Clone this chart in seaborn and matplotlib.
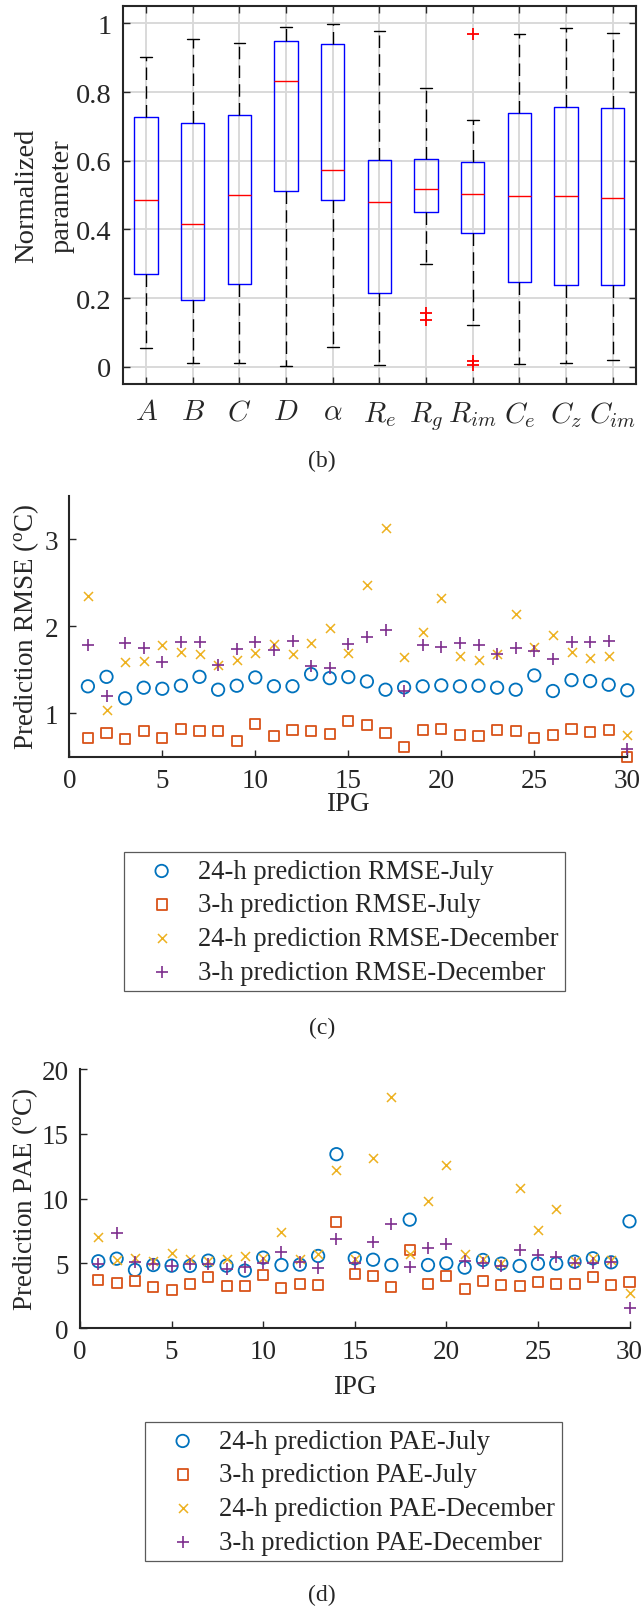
import numpy as np
import pandas as pd
import matplotlib
matplotlib.use("Agg")
import matplotlib.pyplot as plt
import seaborn as sns

# ---------------- (b) normalized identified parameters ----------------
param_labels = [r"$A$", r"$B$", r"$C$", r"$D$", r"$\alpha$", r"$R_e$", r"$R_g$",
                r"$R_{im}$", r"$C_e$", r"$C_z$", r"$C_{im}$"]
whisker_low = [0.054, 0.012, 0.010, 0.001, 0.058, 0.006, 0.300, 0.122, 0.008, 0.011, 0.019]
quartile_1 = [0.270, 0.196, 0.240, 0.513, 0.487, 0.215, 0.452, 0.390, 0.248, 0.237, 0.238]
median = [0.485, 0.415, 0.500, 0.831, 0.573, 0.480, 0.518, 0.503, 0.497, 0.497, 0.491]
quartile_3 = [0.727, 0.711, 0.734, 0.948, 0.940, 0.603, 0.605, 0.598, 0.740, 0.756, 0.753]
whisker_high = [0.902, 0.955, 0.942, 0.990, 0.999, 0.978, 0.812, 0.718, 0.969, 0.987, 0.973]
outlier_param = [r"$R_g$", r"$R_g$", r"$R_{im}$", r"$R_{im}$", r"$R_{im}$"]
outlier_value = [0.156, 0.136, 0.968, 0.017, 0.006]
box_yticks = [0, 0.2, 0.4, 0.6, 0.8, 1.0]
box_yticklabels = ["0", "0.2", "0.4", "0.6", "0.8", "1"]

# ---------------- (c) prediction RMSE per IPG ----------------
ipg = list(range(1, 31))
rmse_24h_july = [1.309, 1.418, 1.171, 1.293, 1.281, 1.316, 1.418, 1.270, 1.316, 1.411,
                 1.310, 1.310, 1.449, 1.403, 1.415, 1.365, 1.270, 1.297, 1.309, 1.320,
                 1.309, 1.316, 1.293, 1.270, 1.434, 1.255, 1.380, 1.369, 1.327, 1.263]
rmse_3h_july = [0.718, 0.775, 0.706, 0.801, 0.718, 0.820, 0.790, 0.790, 0.680, 0.878,
                0.737, 0.805, 0.801, 0.756, 0.908, 0.859, 0.775, 0.615, 0.809, 0.824,
                0.748, 0.740, 0.805, 0.790, 0.714, 0.745, 0.813, 0.779, 0.805, 0.500]
rmse_24h_dec = [2.352, 1.041, 1.583, 1.601, 1.781, 1.704, 1.686, 1.556, 1.606, 1.697,
                1.792, 1.686, 1.807, 1.979, 1.693, 2.474, 3.133, 1.651, 1.929, 2.329,
                1.663, 1.613, 1.681, 2.135, 1.766, 1.895, 1.709, 1.629, 1.663, 0.745]
rmse_3h_dec = [1.781, 1.201, 1.807, 1.754, 1.583, 1.819, 1.819, 1.556, 1.735, 1.819,
               1.723, 1.826, 1.544, 1.514, 1.796, 1.876, 1.956, 1.251, 1.785, 1.766,
               1.803, 1.789, 1.678, 1.754, 1.712, 1.621, 1.819, 1.815, 1.826, 0.584]
rmse_labels = ["24-h prediction RMSE-July", "3-h prediction RMSE-July",
               "24-h prediction RMSE-December", "3-h prediction RMSE-December"]

# ---------------- (d) prediction PAE per IPG ----------------
pae_24h_july = [5.17, 5.37, 4.50, 4.88, 4.83, 4.81, 5.22, 4.83, 4.45, 5.45,
                4.88, 4.91, 5.58, 13.43, 5.40, 5.29, 4.88, 8.38, 4.88, 5.01,
                4.68, 5.27, 4.99, 4.81, 4.99, 4.99, 5.14, 5.40, 5.09, 8.25]
pae_3h_july = [3.75, 3.47, 3.62, 3.16, 2.98, 3.39, 3.96, 3.24, 3.29, 4.14,
               3.09, 3.39, 3.32, 8.23, 4.17, 4.01, 3.16, 6.02, 3.42, 4.01,
               3.01, 3.67, 3.34, 3.29, 3.60, 3.39, 3.42, 3.93, 3.36, 3.60]
pae_24h_dec = [7.07, 5.29, 5.40, 5.19, 5.79, 5.32, 5.22, 5.35, 5.56, 5.40,
               7.45, 5.35, 5.73, 12.21, 5.35, 13.17, 17.85, 5.73, 9.82, 12.57,
               5.76, 5.35, 5.01, 10.85, 7.61, 9.21, 5.17, 5.40, 5.25, 2.72]
pae_3h_dec = [4.94, 7.35, 5.09, 4.96, 4.81, 4.99, 4.99, 4.55, 4.73, 5.04,
              5.89, 5.09, 4.65, 6.89, 5.04, 6.64, 8.05, 4.71, 6.17, 6.50,
              5.17, 5.01, 4.78, 6.04, 5.66, 5.50, 5.01, 5.04, 5.09, 1.54]
pae_labels = ["24-h prediction PAE-July", "3-h prediction PAE-July",
              "24-h prediction PAE-December", "3-h prediction PAE-December"]

ipg_xticks = [0, 5, 10, 15, 20, 25, 30]
rmse_yticks = [1, 2, 3]
pae_yticks = [0, 5, 10, 15, 20]

# ---------------- style ----------------
sns.set_style("ticks")
plt.rcParams["font.family"] = ["Liberation Serif", "DejaVu Serif"]
plt.rcParams["mathtext.fontset"] = "custom"
plt.rcParams["mathtext.rm"] = "Liberation Serif"
plt.rcParams["mathtext.it"] = "Liberation Serif:italic"
plt.rcParams["axes.edgecolor"] = "#262626"
plt.rcParams["xtick.color"] = "#262626"
plt.rcParams["ytick.color"] = "#262626"
plt.rcParams["text.color"] = "#262626"
plt.rcParams["axes.labelcolor"] = "#262626"

C_BLUE = "#0072BD"
C_ORANGE = "#D95319"
C_YELLOW = "#EDB120"
C_PURPLE = "#7E2F8E"

TICK_FS = 19.5
LABEL_FS = 19.5
LEGEND_FS = 19.2
PANEL_FS = 17

W, H = 642, 1608
fig = plt.figure(figsize=(W / 100, H / 100), dpi=100)


def px_axes(left, top, right, bottom):
    return fig.add_axes([left / W, 1 - bottom / H, (right - left) / W, (bottom - top) / H])


# ================= (b) box plot =================
ax_b = px_axes(122.7, 7.3, 636, 385)
box_df = pd.DataFrame({
    "parameter": np.repeat(param_labels, 5),
    "value": np.column_stack([whisker_low, quartile_1, median,
                              quartile_3, whisker_high]).ravel(),
})
sns.boxplot(data=box_df, x="parameter", y="value", order=param_labels, ax=ax_b,
            fill=False, width=0.5, whis=(0, 100), color="blue", linewidth=1.0,
            showfliers=False,
            boxprops=dict(color="blue"),
            medianprops=dict(color="red"),
            whiskerprops=dict(color="black", linestyle=(0, (9, 4.5))),
            capprops=dict(color="black"))
sns.stripplot(x=outlier_param, y=outlier_value, order=param_labels, ax=ax_b,
              jitter=False, marker="+", color="red", size=9, linewidth=1.3,
              zorder=5)
ax_b.set_xlim(-0.5, len(param_labels) - 0.5)
ax_b.set_ylim(-0.05, 1.05)
ax_b.set_xticks(range(len(param_labels)))
ax_b.set_xticklabels(param_labels)
for lbl in ax_b.get_xticklabels():
    lbl.set_math_fontfamily("cm")
    lbl.set_fontsize(21)
ax_b.set_yticks(box_yticks)
ax_b.set_yticklabels(box_yticklabels, fontsize=20.5)
ax_b.grid(True, color="#d9d9d9", linewidth=1.4)
ax_b.set_axisbelow(True)
for sp in ax_b.spines.values():
    sp.set_visible(True)
    sp.set_linewidth(1.5)
ax_b.tick_params(direction="in", length=5, width=1.0, top=True, right=True, pad=8)
ax_b.tick_params(axis="x", pad=11)
ax_b.set_xlabel("")
ax_b.set_ylabel("Normalized\nparameter", fontsize=20.5, linespacing=1.55)
ax_b.yaxis.set_label_coords(-0.094, 0.5)
fig.text(321.7 / W, 1 - 461.7 / H, "(b)", ha="center", va="center", fontsize=PANEL_FS)


# ================= scatter panels =================
def scatter_panel(ax, series, labels):
    specs = [
        dict(marker="o", s=80, facecolor="none", edgecolor=C_BLUE, linewidth=1.3),
        dict(marker="s", s=52, facecolor="none", edgecolor=C_ORANGE, linewidth=1.3),
        dict(marker="x", s=42, color=C_YELLOW, linewidth=1.1),
        dict(marker="+", s=64, color=C_PURPLE, linewidth=1.2),
    ]
    for vals, lab, spec in zip(series, labels, specs):
        sns.scatterplot(x=ipg, y=vals, ax=ax, label=lab, clip_on=False,
                        legend=False, **spec)
    sns.despine(ax=ax)
    for side in ("left", "bottom"):
        ax.spines[side].set_linewidth(1.5)
    ax.tick_params(direction="in", length=5, width=1.0, pad=8, labelsize=TICK_FS)
    ax.set_xlim(0, 30)
    ax.set_xticks(ipg_xticks)


def add_legend(ax, left_px, top_px):
    h, l = ax.get_legend_handles_labels()
    leg = ax.legend(h, l, loc="upper left", bbox_to_anchor=(left_px / W, 1 - top_px / H),
                    bbox_transform=fig.transFigure, borderaxespad=0, fontsize=LEGEND_FS,
                    frameon=True, fancybox=False, edgecolor="#5a5a5a", framealpha=1,
                    borderpad=0.25, handlelength=2.3, handletextpad=0.22,
                    labelspacing=0.32, scatterpoints=1)
    leg.get_frame().set_linewidth(0.9)


# ---- (c) RMSE ----
ax_c = px_axes(69.3, 496.7, 627.3, 757.7)
scatter_panel(ax_c, [rmse_24h_july, rmse_3h_july, rmse_24h_dec, rmse_3h_dec], rmse_labels)
ax_c.set_ylim(0.5, 3.5)
ax_c.set_yticks(rmse_yticks)
ax_c.set_xlabel("IPG", fontsize=LABEL_FS)
ax_c.xaxis.set_label_coords(0.5, -0.13)
ax_c.set_ylabel(r"Prediction RMSE ($^{\rm o}$C)", fontsize=LABEL_FS)
ax_c.yaxis.set_label_coords(-0.051, 0.5)
add_legend(ax_c, 124.3, 853.3)
fig.text(322 / W, 1 - 1028 / H, "(c)", ha="center", va="center", fontsize=PANEL_FS)

# ---- (d) PAE ----
ax_d = px_axes(80, 1070, 629.5, 1329.3)
scatter_panel(ax_d, [pae_24h_july, pae_3h_july, pae_24h_dec, pae_3h_dec], pae_labels)
ax_d.set_ylim(0, 20)
ax_d.set_yticks(pae_yticks)
ax_d.set_xlabel("IPG", fontsize=LABEL_FS)
ax_d.xaxis.set_label_coords(0.5, -0.175)
ax_d.set_ylabel(r"Prediction PAE ($^{\rm o}$C)", fontsize=LABEL_FS)
ax_d.yaxis.set_label_coords(-0.073, 0.5)
add_legend(ax_d, 145.3, 1423.3)
fig.text(322 / W, 1 - 1595 / H, "(d)", ha="center", va="center", fontsize=PANEL_FS)

fig.savefig("out.png", dpi=100, facecolor="white")
